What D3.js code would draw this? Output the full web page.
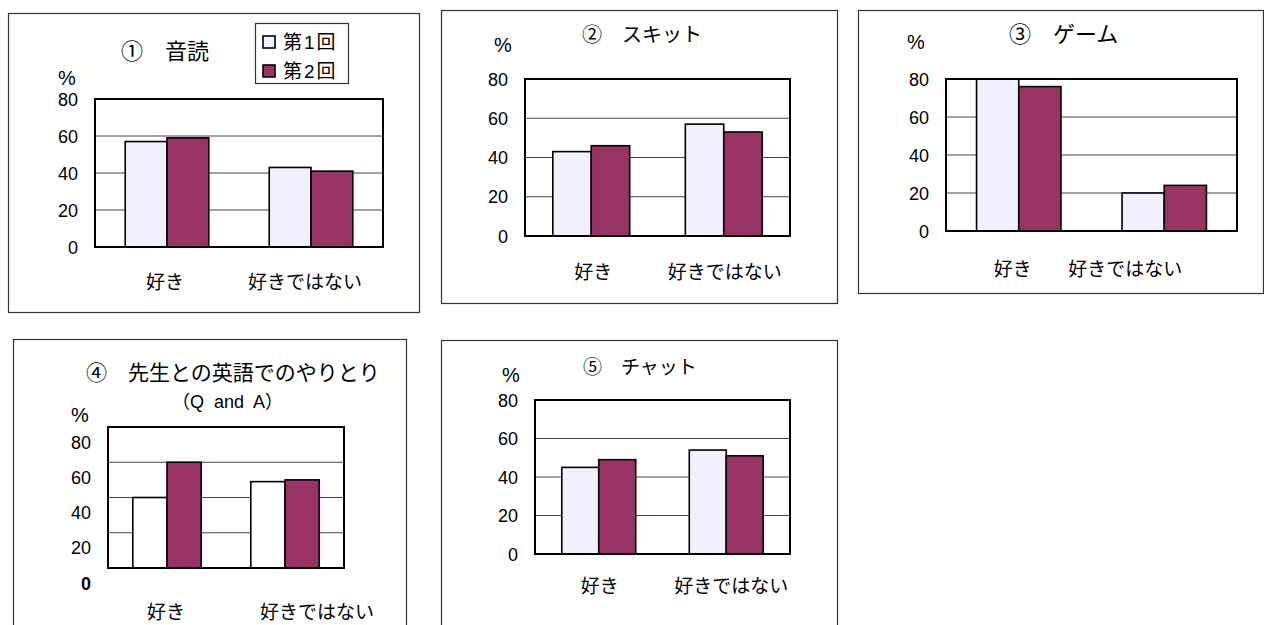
<!DOCTYPE html>
<html>
<head>
<meta charset="utf-8">
<script src="https://cdn.jsdelivr.net/npm/d3@7"></script>
<style>
  body { margin: 0; background: #fff; }
  svg { display: block; }
  text { font-family: "Liberation Sans", "Noto Sans CJK JP", sans-serif; fill: #000; }
</style>
</head>
<body>
<svg width="1264" height="625"></svg>
<script>
// data
var categories = ["好き", "好きではない"];
var seriesNames = ["第1回", "第2回"];
var titles = ["①\u3000音読", "②\u3000スキット", "③\u3000ゲーム", "④\u3000先生との英語でのやりとり", "⑤\u3000チャット"];
var subtitle4 = "（Q\u00a0 and\u00a0 A）";
var round1 = [[57, 43], [43, 57], [80, 20], [40, 49], [45, 54]];
var round2 = [[59, 41], [46, 53], [76, 24], [60, 50], [49, 51]];
var yTicks = [0, 20, 40, 60, 80];

// layout of each panel (page pixels)
var panels = [
    { frame: [8, 13, 419, 312], plot: [95, 99, 383, 247], title: [121, 52, 22], pct: [58, 78], catY: 283, shift: [-2, -6], tickDy: 0 },
    { frame: [441, 10, 837, 303], plot: [525, 79, 790, 236], title: [582, 35, 20], pct: [494, 45], catY: 273, shift: [2, 1], tickDy: 0 },
    { frame: [858, 10, 1263, 293], plot: [946, 79, 1237, 231], title: [1009, 35, 22], pct: [907, 42], catY: 270, shift: [-6, -39], tickDy: 0 },
    { frame: [13, 339, 406, 700], plot: [108, 427, 344, 568], title: [86, 373, 21], pct: [71, 415], catY: 613, shift: [-1, 32], tickDy: 15, white: true },
    { frame: [441, 340, 837, 700], plot: [535, 400, 790, 554], title: [583, 367, 19], pct: [502, 375], catY: 587, shift: [1, 5], tickDy: 0 }
];

var lavender = "#f0f0fe", maroon = "#993366";
var svg = d3.select("svg");

panels.forEach(function (p, i) {
    var g = svg.append("g");
    var w = p.plot[2] - p.plot[0], h = p.plot[3] - p.plot[1];

    // outer frame
    g.append("rect")
        .attr("x", p.frame[0] + 0.5).attr("y", p.frame[1] + 0.5)
        .attr("width", p.frame[2] - p.frame[0]).attr("height", p.frame[3] - p.frame[1])
        .attr("fill", "#fff").attr("stroke", "#333").attr("stroke-width", 1.2);

    var x = d3.scaleBand().domain(categories).range([0, w]).paddingInner(0.42).paddingOuter(0.21);
    var xs = d3.scaleBand().domain(seriesNames).range([0, x.bandwidth()]);
    var y = d3.scaleLinear().domain([0, 80]).range([h, 0]);

    var plot = g.append("g").attr("transform", "translate(" + p.plot[0] + "," + p.plot[1] + ")");

    // gridlines
    plot.selectAll(".grid").data(yTicks.slice(1, -1)).enter().append("line")
        .attr("x1", 0).attr("x2", w)
        .attr("y1", function (d) { return y(d); }).attr("y2", function (d) { return y(d); })
        .attr("stroke", "#444").attr("stroke-width", 1);

    // bars
    var rows = categories.map(function (c, j) {
        return [{ c: c, s: seriesNames[0], v: round1[i][j] }, { c: c, s: seriesNames[1], v: round2[i][j] }];
    });
    var flat = [].concat.apply([], rows);
    plot.selectAll(".bar").data(flat).enter().append("rect")
        .attr("x", function (d) { return x(d.c) + xs(d.s); })
        .attr("y", function (d) { return y(d.v); })
        .attr("width", xs.bandwidth())
        .attr("height", function (d) { return h - y(d.v); })
        .attr("fill", function (d) { return d.s === seriesNames[0] ? (p.white ? "#fff" : lavender) : maroon; })
        .attr("stroke", "#000").attr("stroke-width", 1.6);

    // plot border
    plot.append("rect").attr("width", w).attr("height", h)
        .attr("fill", "none").attr("stroke", "#000").attr("stroke-width", 2);

    // y axis labels
    var ay = plot.append("g").call(d3.axisLeft(y).tickValues(yTicks).tickSize(0).tickPadding(17));
    ay.select(".domain").remove();
    ay.selectAll("text")
        .attr("font-size", 18)
        .attr("dy", (p.tickDy + 6) + "px")
        .attr("font-weight", function (d) { return (p.white && d === 0) ? "bold" : null; });

    // category labels
    g.selectAll(".cat").data(categories).enter().append("text")
        .attr("x", function (d, j) { return p.plot[0] + x(d) + x.bandwidth() / 2 + p.shift[j]; })
        .attr("y", p.catY + 6)
        .attr("text-anchor", "middle")
        .attr("font-size", 19)
        .text(function (d) { return d; });

    // % label
    g.append("text").attr("x", p.pct[0]).attr("y", p.pct[1] + 7)
        .attr("font-size", 20).text("%");

    // title
    g.append("text").attr("x", p.title[0]).attr("y", p.title[1] + 7)
        .attr("font-size", p.title[2]).text(titles[i]);
    if (i === 3) {
        g.append("text").attr("x", 172).attr("y", 402 + 6)
            .attr("font-size", 18).text(subtitle4);
    }
});

// legend (panel 1)
var leg = svg.append("g");
leg.append("rect").attr("x", 255.5).attr("y", 23.5).attr("width", 93).attr("height", 60)
    .attr("fill", "#fff").attr("stroke", "#333").attr("stroke-width", 1.2);
seriesNames.forEach(function (s, k) {
    var cy = 42 + k * 29;
    leg.append("rect").attr("x", 263).attr("y", cy - 6).attr("width", 12).attr("height", 12)
        .attr("fill", k === 0 ? lavender : maroon).attr("stroke", "#000").attr("stroke-width", 1.6);
    leg.append("text").attr("x", 283).attr("y", cy + 7).attr("font-size", 19)
        .attr("letter-spacing", 2).text(s);
});
</script>
</body>
</html>
